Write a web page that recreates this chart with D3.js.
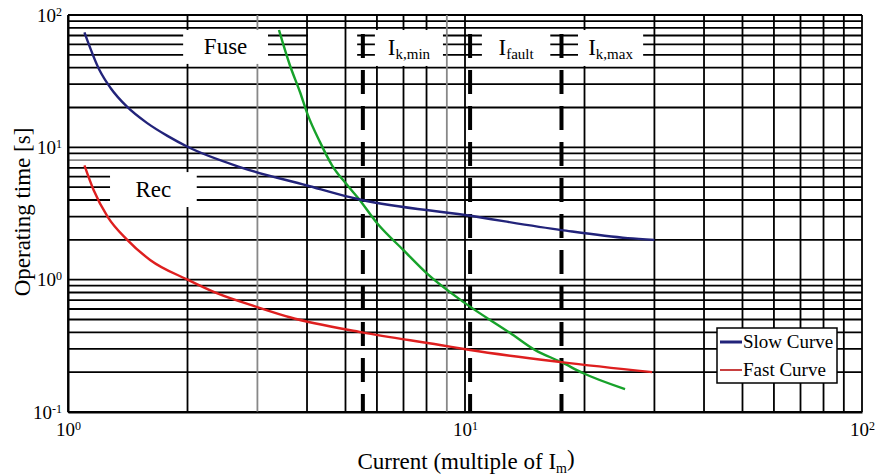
<!DOCTYPE html>
<html>
<head>
<meta charset="utf-8">
<script src="https://cdn.jsdelivr.net/npm/d3@7"></script>
<style>
  body { margin: 0; background: #fff; }
  svg { display: block; font-family: "Liberation Serif", "Times New Roman", serif; }
</style>
</head>
<body>
<script>
// data
var slowCurrent = [1.1, 1.2, 1.28, 1.41, 1.58, 1.78, 2.0, 2.71, 4.0, 5.13, 5.5, 10, 17.5, 25.7, 30];
var slowTime    = [74, 38.4, 28.1, 20.2, 15.3, 12.2, 10.1, 7.1, 5.15, 4.2, 4.0, 3.08, 2.37, 2.06, 2.0];

var fastCurrent = [1.1, 1.16, 1.26, 1.41, 1.61, 2.0, 2.37, 3.0, 3.62, 5.5, 8.65, 10.3, 17.5, 29.6];
var fastTime    = [7.3, 4.76, 2.97, 2.0, 1.41, 1.0, 0.79, 0.62, 0.52, 0.40, 0.321, 0.294, 0.238, 0.20];

var fuseCurrent = [3.40, 3.62, 3.84, 4.02, 4.31, 4.62, 5.05, 5.38, 6.0, 7.0, 8.0, 10, 13, 15, 17.5, 19.8, 25.3];
var fuseTime    = [77, 41.9, 26.2, 17.5, 11.0, 7.35, 5.19, 4.14, 2.68, 1.67, 1.12, 0.665, 0.395, 0.294, 0.238, 0.197, 0.149];

var markerCurrent = [5.53, 10.3, 17.5];   // Ik,min, Ifault, Ik,max

var xTicks = [1, 10, 100];
var yTicks = [0.1, 1, 10, 100];
var grayX = [3, 9];
var grayY = [8];

// label boxes [x0, x1, yTop, yBottom, main, sub]
var labelBoxes = [
  [1.95, 3.19, 77, 42.7, "Fuse", ""],
  [1.276, 2.11, 6.5, 3.54, "Rec", ""],
  [5.93, 8.8, 77, 41.2, "I", "k,min"],
  [11.03, 16.4, 77, 41.2, "I", "fault"],
  [19.26, 28.1, 77, 41.2, "I", "k,max"]
];

var W = 888, H = 475;
var svg = d3.select("body").append("svg").attr("width", W).attr("height", H);

var x = d3.scaleLog().domain([1, 100]).range([68, 862]);
var y = d3.scaleLog().domain([0.1, 100]).range([412, 15]);

var gridX = [], gridY = [];
[1, 10].forEach(function(b){ for (var k = 1; k < 10; k++) gridX.push(b*k); });
gridX.push(100);
[0.1, 1, 10].forEach(function(b){ for (var k = 1; k < 10; k++) gridY.push(+(b*k).toPrecision(3)); });
gridY.push(100);

function isGray(list, v){ return list.some(function(g){ return Math.abs(g - v) < 1e-6; }); }

// horizontal grid
svg.append("g").selectAll("line")
  .data(gridY)
  .enter().append("line")
    .attr("x1", x(1)).attr("x2", x(100))
    .attr("y1", function(d){ return y(d); })
    .attr("y2", function(d){ return y(d); })
    .attr("stroke", function(d){ return isGray(grayY, d) ? "#888" : "#000"; })
    .attr("stroke-width", 1.8);

// blank strip (horizontal lines only)
svg.append("rect")
  .attr("x", x(4.02)).attr("width", x(5.35) - x(4.02))
  .attr("y", y(77)).attr("height", y(42.7) - y(77))
  .attr("fill", "#fff");

// vertical grid
svg.append("g").selectAll("line")
  .data(gridX)
  .enter().append("line")
    .attr("y1", y(0.1)).attr("y2", y(100))
    .attr("x1", function(d){ return x(d); })
    .attr("x2", function(d){ return x(d); })
    .attr("stroke", function(d){ return isGray(grayX, d) ? "#888" : "#000"; })
    .attr("stroke-width", 1.8);

// label boxes
svg.append("g").selectAll("rect")
  .data(labelBoxes)
  .enter().append("rect")
    .attr("x", function(d){ return x(d[0]); })
    .attr("width", function(d){ return x(d[1]) - x(d[0]); })
    .attr("y", function(d){ return y(d[2]); })
    .attr("height", function(d){ return y(d[3]) - y(d[2]); })
    .attr("fill", "#fff");

// dashed markers
svg.append("g").selectAll("line")
  .data(markerCurrent)
  .enter().append("line")
    .attr("x1", function(d){ return x(d); })
    .attr("x2", function(d){ return x(d); })
    .attr("y1", 34).attr("y2", y(0.1))
    .attr("stroke", "#000")
    .attr("stroke-width", 4)
    .attr("stroke-dasharray", "24,12");

// curves
var line = d3.line()
  .x(function(d){ return x(d[0]); })
  .y(function(d){ return y(d[1]); })
  .curve(d3.curveMonotoneX);

function zip(a, b){ return a.map(function(v, i){ return [v, b[i]]; }); }

svg.append("path").datum(zip(fuseCurrent, fuseTime))
  .attr("d", line).attr("fill", "none")
  .attr("stroke", "#17a22a").attr("stroke-width", 2.4);
svg.append("path").datum(zip(slowCurrent, slowTime))
  .attr("d", line).attr("fill", "none")
  .attr("stroke", "#22237a").attr("stroke-width", 2.4);
svg.append("path").datum(zip(fastCurrent, fastTime))
  .attr("d", line).attr("fill", "none")
  .attr("stroke", "#de1f1f").attr("stroke-width", 2.4);

// box labels
var lab = svg.append("g").selectAll("text")
  .data(labelBoxes)
  .enter().append("text")
    .attr("x", function(d){ return (x(d[0]) + x(d[1]))/2; })
    .attr("y", function(d){ return (y(d[2]) + y(d[3]))/2 + 7; })
    .attr("text-anchor", "middle")
    .attr("font-size", "23px")
    .attr("fill", "#000")
    .text(function(d){ return d[4]; });
lab.filter(function(d){ return d[5] !== ""; })
  .append("tspan")
    .attr("dy", "0.3em")
    .attr("font-size", "15px")
    .text(function(d){ return d[5]; });

// axes
var gy = svg.append("g").attr("transform", "translate(" + x(1) + ",0)")
  .call(d3.axisLeft(y).tickValues(yTicks).tickSize(0).tickPadding(6).tickFormat(function(){ return "10"; }));
var gx = svg.append("g").attr("transform", "translate(0," + y(0.1) + ")")
  .call(d3.axisBottom(x).tickValues(xTicks).tickSize(0).tickPadding(11).tickFormat(function(){ return "10"; }));

[gx, gy].forEach(function(g){
  g.attr("font-family", "Liberation Serif");
  g.select(".domain").attr("stroke", "#000").attr("stroke-width", 2);
  g.selectAll(".tick text")
    .attr("font-size", "19px")
    .attr("fill", "#000")
    .each(function(d){
      d3.select(this).append("tspan")
        .attr("dy", "-0.5em")
        .attr("font-size", "12px")
        .text(Math.round(Math.log10(d)));
    });
});

// axis titles
var xt = svg.append("text")
  .attr("x", 466).attr("y", 469)
  .attr("text-anchor", "middle")
  .attr("font-size", "23px")
  .text("Current (multiple of I");
xt.append("tspan").attr("dy", "0.3em").attr("font-size", "14px").text("m");
xt.append("tspan").attr("dy", "-0.3em").text(")");

svg.append("text")
  .attr("transform", "translate(30,212) rotate(-90)")
  .attr("text-anchor", "middle")
  .attr("font-size", "23px")
  .text("Operating time [s]");

// legend
var lg = svg.append("g").attr("transform", "translate(717,328)");
lg.append("rect").attr("width", 120).attr("height", 55)
  .attr("fill", "#fff").attr("stroke", "#000").attr("stroke-width", 1.5);
var legendItems = [["Slow Curve", "#22237a", 3], ["Fast Curve", "#c84040", 2]];
legendItems.forEach(function(d, i){
  lg.append("line")
    .attr("x1", 3).attr("x2", 25)
    .attr("y1", 14 + i*28).attr("y2", 14 + i*28)
    .attr("stroke", d[1]).attr("stroke-width", d[2]);
  lg.append("text")
    .attr("x", 26).attr("y", 20 + i*28)
    .attr("font-size", "19px")
    .text(d[0]);
});
</script>
</body>
</html>
